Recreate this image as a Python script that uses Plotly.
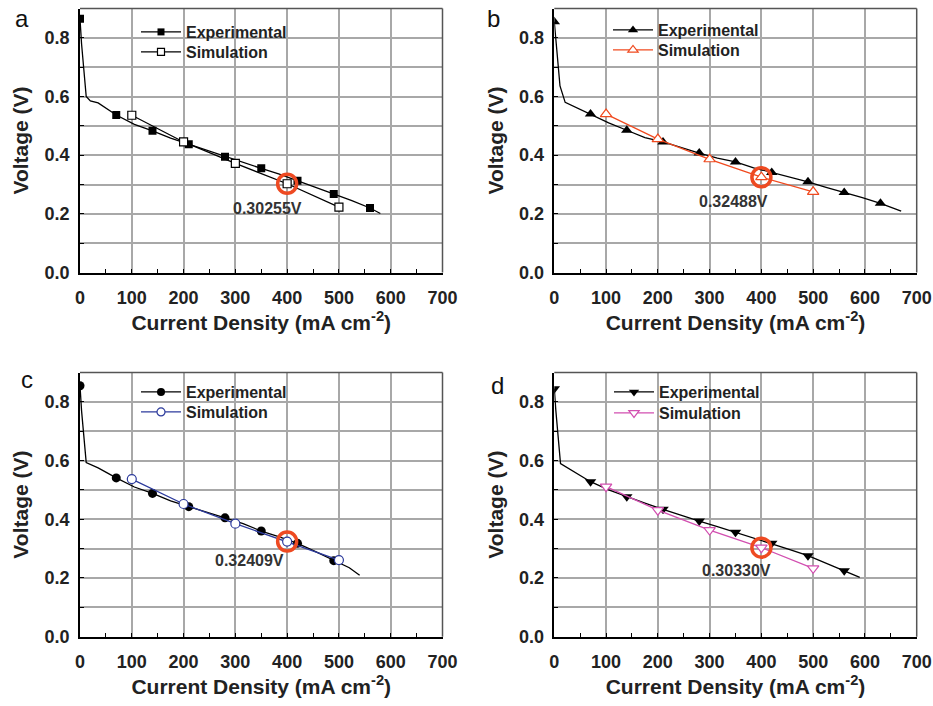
import plotly.graph_objects as go

# ---- data: experimental polarization curves (dense) and measured points ----
exp_curve_x_a = [0, 3, 12, 20, 35, 70, 105, 140, 175, 210, 245, 280, 315, 350, 385, 420, 455, 490, 525, 560, 580]
exp_curve_y_a = [0.865, 0.78, 0.60, 0.585, 0.578, 0.537, 0.505, 0.483, 0.458, 0.437, 0.417, 0.395, 0.375, 0.355, 0.335, 0.313, 0.29, 0.268, 0.245, 0.22, 0.201]
exp_pts_x_a = [0, 70, 140, 210, 280, 350, 420, 490, 560]
exp_pts_y_a = [0.865, 0.537, 0.483, 0.437, 0.395, 0.355, 0.313, 0.268, 0.22]

exp_curve_x_b = [0, 5, 11, 21, 70, 105, 140, 175, 210, 245, 280, 315, 350, 385, 420, 455, 490, 525, 560, 595, 630, 670]
exp_curve_y_b = [0.855, 0.76, 0.636, 0.58, 0.54, 0.51, 0.485, 0.46, 0.445, 0.425, 0.407, 0.39, 0.377, 0.357, 0.341, 0.325, 0.309, 0.29, 0.273, 0.255, 0.236, 0.209]
exp_pts_x_b = [0, 70, 140, 210, 280, 350, 420, 490, 560, 630]
exp_pts_y_b = [0.855, 0.54, 0.485, 0.445, 0.407, 0.377, 0.341, 0.309, 0.273, 0.236]

exp_curve_x_c = [0, 3, 12, 35, 70, 105, 140, 175, 210, 245, 280, 315, 350, 385, 420, 455, 490, 520, 540]
exp_curve_y_c = [0.855, 0.77, 0.593, 0.575, 0.541, 0.51, 0.488, 0.463, 0.443, 0.425, 0.405, 0.385, 0.36, 0.34, 0.318, 0.29, 0.259, 0.235, 0.209]
exp_pts_x_c = [0, 70, 140, 210, 280, 350, 420, 490]
exp_pts_y_c = [0.855, 0.541, 0.488, 0.443, 0.405, 0.36, 0.318, 0.259]

exp_curve_x_d = [0, 3, 12, 70, 105, 140, 175, 210, 245, 280, 315, 350, 385, 420, 455, 490, 525, 560, 590]
exp_curve_y_d = [0.845, 0.77, 0.59, 0.528, 0.5, 0.477, 0.455, 0.434, 0.413, 0.394, 0.375, 0.356, 0.337, 0.318, 0.297, 0.276, 0.25, 0.225, 0.202]
exp_pts_x_d = [0, 70, 140, 210, 280, 350, 420, 490, 560]
exp_pts_y_d = [0.845, 0.528, 0.477, 0.434, 0.394, 0.356, 0.318, 0.276, 0.225]

# ---- data: simulated points ----
sim_x = [100, 200, 300, 400, 500]
sim_y_a = [0.536, 0.445, 0.372, 0.30255, 0.223]
sim_y_b = [0.54, 0.455, 0.386, 0.32488, 0.275]
sim_y_c = [0.537, 0.452, 0.385, 0.32409, 0.261]
sim_y_d = [0.511, 0.431, 0.363, 0.30330, 0.233]

highlight_x = 400
highlight_labels = ["0.30255V", "0.32488V", "0.32409V", "0.30330V"]
label_pos_x = [363, 347, 328, 351]
label_pos_y = [0.219, 0.243, 0.258, 0.227]

panel_letters = ["a", "b", "c", "d"]
series_names = ["Experimental", "Simulation"]
x_ticks = [0, 100, 200, 300, 400, 500, 600, 700]

panels = [
    dict(cx=exp_curve_x_a, cy=exp_curve_y_a, px=exp_pts_x_a, py=exp_pts_y_a, sy=sim_y_a,
         sym="square", size=8, color="#000000"),
    dict(cx=exp_curve_x_b, cy=exp_curve_y_b, px=exp_pts_x_b, py=exp_pts_y_b, sy=sim_y_b,
         sym="triangle-up", size=10, color="#f04a1f"),
    dict(cx=exp_curve_x_c, cy=exp_curve_y_c, px=exp_pts_x_c, py=exp_pts_y_c, sy=sim_y_c,
         sym="circle", size=9, color="#2c3a9c"),
    dict(cx=exp_curve_x_d, cy=exp_curve_y_d, px=exp_pts_x_d, py=exp_pts_y_d, sy=sim_y_d,
         sym="triangle-down", size=10, color="#d24fb0"),
]

# pixel layout of the 2x2 grid (figure is 933 x 706)
W, H = 933, 706
x_dom = [(80, 442.5), (554.3, 916.7), (80, 442.5), (554.3, 916.7)]
y_dom = [(8.5, 272.5), (8.5, 272.5), (372.5, 636.7), (372.5, 636.7)]
legend_x = [136, 608, 136, 609]
legend_rows = [(32, 52), (30, 50), (392, 412), (392, 413)]
letter_xy = [(22, 19), (493, 19), (27, 380), (497, 385)]

FONT = "Liberation Sans, Arial, sans-serif"
TXT = "#222222"
RING = "#ee4a22"

fig = go.Figure()
layout = dict(
    width=W, height=H, autosize=False,
    margin=dict(l=0, r=0, t=0, b=0, autoexpand=False),
    paper_bgcolor="white", plot_bgcolor="white",
    font=dict(family=FONT, color=TXT),
    shapes=[], annotations=[],
)


def legend_name(k):
    return "legend" if k == 0 else "legend" + str(k + 1)


for i, p in enumerate(panels):
    n = "" if i == 0 else str(i + 1)
    xa, ya = "x" + n, "y" + n
    leg_exp, leg_sim = legend_name(2 * i), legend_name(2 * i + 1)

    # experimental curve
    fig.add_trace(go.Scatter(x=p["cx"], y=p["cy"], mode="lines", xaxis=xa, yaxis=ya,
                             line=dict(color="black", width=1.3), showlegend=False, hoverinfo="skip"))
    # experimental points
    fig.add_trace(go.Scatter(x=p["px"], y=p["py"], mode="markers", xaxis=xa, yaxis=ya,
                             marker=dict(symbol=p["sym"], size=p["size"], color="black"),
                             showlegend=False))
    # simulation
    fig.add_trace(go.Scatter(x=sim_x, y=p["sy"], mode="lines+markers", xaxis=xa, yaxis=ya,
                             line=dict(color=p["color"], width=1.3),
                             marker=dict(symbol=p["sym"], size=p["size"], color="white",
                                         line=dict(color=p["color"], width=1.2)),
                             showlegend=False))
    # highlighted simulated value at 400 mA cm-2
    hv = p["sy"][sim_x.index(highlight_x)]
    fig.add_trace(go.Scatter(x=[highlight_x], y=[hv], mode="markers", xaxis=xa, yaxis=ya,
                             marker=dict(symbol="circle-open", size=19, color=RING,
                                         line=dict(color=RING, width=3.5)),
                             showlegend=False, cliponaxis=False))
    # legend entries (one legend per row)
    fig.add_trace(go.Scatter(x=[None], y=[None], mode="lines+markers", xaxis=xa, yaxis=ya,
                             name=series_names[0], legend=leg_exp,
                             line=dict(color="black", width=1.3),
                             marker=dict(symbol=p["sym"], size=p["size"] - 1, color="black")))
    fig.add_trace(go.Scatter(x=[None], y=[None], mode="lines+markers", xaxis=xa, yaxis=ya,
                             name=series_names[1], legend=leg_sim,
                             line=dict(color=p["color"], width=1.3),
                             marker=dict(symbol=p["sym"], size=p["size"] - 1, color="white",
                                         line=dict(color=p["color"], width=1.2))))

    x0, x1 = x_dom[i]
    yt, yb = y_dom[i]
    xd = [x0 / W, x1 / W]
    yd = [1 - yb / H, 1 - yt / H]

    layout["xaxis" + n] = dict(
        domain=xd, range=[0, 700], anchor=ya,
        tickmode="array", tickvals=x_ticks,
        ticks="inside", ticklen=4, tickwidth=1.2, tickcolor="black",
        showgrid=True, gridcolor="#a8a8a8", gridwidth=1.5,
        minor=dict(dtick=50, ticks="inside", ticklen=4, tickwidth=1.2, tickcolor="black", showgrid=False),
        showline=True, linecolor="black", linewidth=1.5, mirror=False,
        zeroline=False, automargin=False,
        tickfont=dict(size=18, weight="bold", color=TXT),
        ticklabelstandoff=8,
        title=dict(text="Current Density (mA cm<sup>-2</sup>)", standoff=8,
                   font=dict(size=21, weight="bold", color=TXT)),
    )
    layout["yaxis" + n] = dict(
        domain=yd, range=[0, 0.9], anchor=xa,
        tickmode="array", tickvals=[0.0, 0.2, 0.4, 0.6, 0.8],
        ticktext=["0.0", "0.2", "0.4", "0.6", "0.8"],
        ticks="inside", ticklen=4, tickwidth=1.2, tickcolor="black",
        showgrid=True, gridcolor="#a8a8a8", gridwidth=1.5,
        minor=dict(dtick=0.1, ticks="inside", ticklen=4, tickwidth=1.2, tickcolor="black",
                   showgrid=True, gridcolor="#a8a8a8", gridwidth=1.5),
        showline=True, linecolor="black", linewidth=1.5, mirror=False,
        zeroline=False, automargin=False,
        tickfont=dict(size=18, weight="bold", color=TXT),
        ticklabelstandoff=5,
        title=dict(text="Voltage (V)", standoff=10,
                   font=dict(size=21, weight="bold", color=TXT)),
    )

    # top and right frame edges
    layout["shapes"].append(dict(type="line", xref="paper", yref="paper",
                                 x0=xd[0], x1=xd[1], y0=yd[1], y1=yd[1],
                                 line=dict(color="#555555", width=1.5), layer="above"))
    layout["shapes"].append(dict(type="line", xref="paper", yref="paper",
                                 x0=xd[1], x1=xd[1], y0=yd[0], y1=yd[1],
                                 line=dict(color="#555555", width=1.5), layer="above"))

    for leg, row_y in zip((leg_exp, leg_sim), legend_rows[i]):
        layout[leg] = dict(x=legend_x[i] / W, y=1 - row_y / H, xanchor="left", yanchor="middle",
                           bgcolor="rgba(0,0,0,0)", borderwidth=0,
                           font=dict(size=16, weight="bold", color=TXT),
                           tracegroupgap=0, itemwidth=40)

    layout["annotations"].append(dict(
        x=label_pos_x[i], y=label_pos_y[i], xref=xa, yref=ya,
        text=highlight_labels[i], showarrow=False,
        font=dict(size=16, weight="bold", color="#333333")))
    lxp, lyp = letter_xy[i]
    layout["annotations"].append(dict(
        x=lxp / W, y=1 - lyp / H, xref="paper", yref="paper",
        xanchor="center", yanchor="middle",
        text=panel_letters[i], showarrow=False,
        font=dict(size=24, color="#111111")))

fig.update_layout(**layout)
fig.write_html("out.html")
